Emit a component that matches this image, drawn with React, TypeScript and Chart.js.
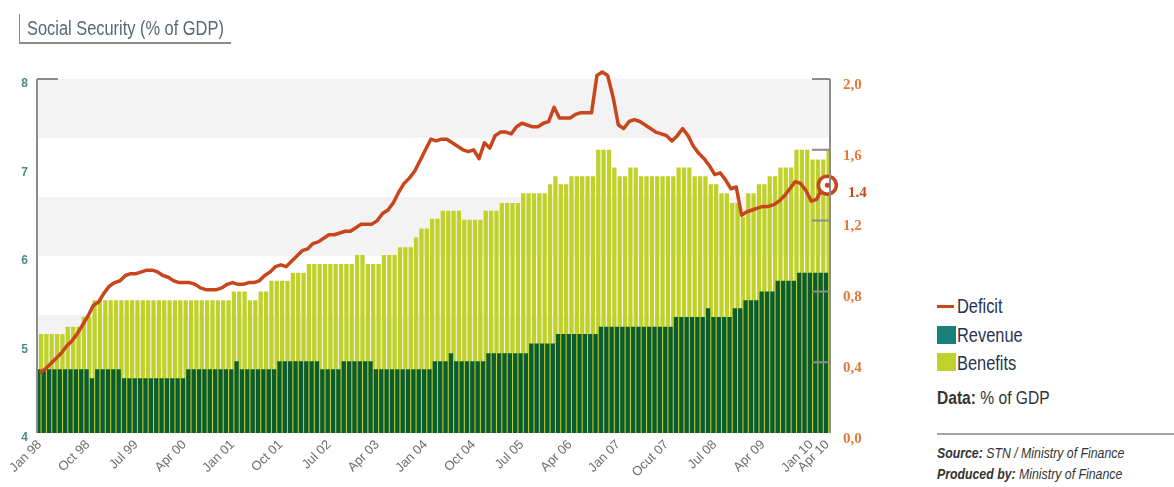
import React, { useEffect, useRef } from "react";
import { Chart, registerables } from "chart.js";

Chart.register(...registerables);

const MONTH_NAMES = ["Jan", "Feb", "Mar", "Apr", "May", "Jun", "Jul", "Aug", "Sep", "Oct", "Nov", "Dec"];

// Monthly categories Jan 98 .. Apr 10
const categories: string[] = [];
for (let y = 1998; y <= 2010; y++) {
  for (let m = 0; m < 12; m++) {
    if (y === 2010 && m > 3) break;
    categories.push(`${MONTH_NAMES[m]} ${String(y % 100).padStart(2, "0")}`);
  }
}

const tickCategories = ["Jan 98", "Oct 98", "Jul 99", "Apr 00", "Jan 01", "Oct 01", "Jul 02", "Apr 03", "Jan 04", "Oct 04", "Jul 05", "Apr 06", "Jan 07", "Oct 07", "Jul 08", "Apr 09", "Jan 10", "Apr 10"];
const tickLabels = ["Jan 98", "Oct 98", "Jul 99", "Apr 00", "Jan 01", "Oct 01", "Jul 02", "Apr 03", "Jan 04", "Oct 04", "Jul 05", "Apr 06", "Jan 07", "Ocut 07", "Jul 08", "Apr 09", "Jan 10", "Apr 10"];

// Benefits (% of GDP, left axis)
const benefits = [
  5.12, 5.12, 5.12, 5.12, 5.12, 5.2, 5.2, 5.2, 5.31, 5.31, 5.5, 5.5,
  5.5, 5.5, 5.5, 5.5, 5.5, 5.5, 5.5, 5.5, 5.5, 5.5, 5.5, 5.5,
  5.5, 5.5, 5.5, 5.5, 5.5, 5.5, 5.5, 5.5, 5.5, 5.5, 5.5, 5.5,
  5.6, 5.6, 5.6, 5.5, 5.5, 5.6, 5.6, 5.72, 5.72, 5.72, 5.72, 5.81,
  5.81, 5.81, 5.91, 5.91, 5.91, 5.91, 5.91, 5.91, 5.91, 5.91, 5.91, 6.01,
  6.01, 5.91, 5.91, 5.91, 6.01, 6.01, 6.01, 6.1, 6.1, 6.1, 6.21, 6.31,
  6.31, 6.42, 6.42, 6.51, 6.51, 6.51, 6.51, 6.41, 6.41, 6.41, 6.41, 6.51,
  6.51, 6.51, 6.6, 6.6, 6.6, 6.6, 6.71, 6.71, 6.71, 6.71, 6.71, 6.81,
  6.9, 6.81, 6.81, 6.9, 6.9, 6.9, 6.9, 6.9, 7.2, 7.2, 7.2, 7.0,
  6.9, 6.9, 7.0, 7.0, 6.9, 6.9, 6.9, 6.9, 6.9, 6.9, 6.9, 7.0,
  7.0, 7.0, 6.9, 6.9, 6.9, 6.81, 6.81, 6.71, 6.71, 6.6, 6.6, 6.44,
  6.71, 6.71, 6.81, 6.81, 6.9, 6.9, 7.0, 7.0, 7.0, 7.2, 7.2, 7.2,
  7.09, 7.09, 7.09, 7.2,
];

// Revenue (% of GDP, left axis)
const revenue = [
  4.72, 4.72, 4.72, 4.72, 4.72, 4.72, 4.72, 4.72, 4.72, 4.72, 4.62, 4.72,
  4.72, 4.72, 4.72, 4.72, 4.62, 4.62, 4.62, 4.62, 4.62, 4.62, 4.62, 4.62,
  4.62, 4.62, 4.62, 4.62, 4.72, 4.72, 4.72, 4.72, 4.72, 4.72, 4.72, 4.72,
  4.72, 4.81, 4.72, 4.72, 4.72, 4.72, 4.72, 4.72, 4.72, 4.81, 4.81, 4.81,
  4.81, 4.81, 4.81, 4.81, 4.81, 4.72, 4.72, 4.72, 4.72, 4.81, 4.81, 4.81,
  4.81, 4.81, 4.81, 4.72, 4.72, 4.72, 4.72, 4.72, 4.72, 4.72, 4.72, 4.72,
  4.72, 4.72, 4.81, 4.81, 4.81, 4.9, 4.81, 4.81, 4.81, 4.81, 4.81, 4.81,
  4.9, 4.9, 4.9, 4.9, 4.9, 4.9, 4.9, 4.9, 5.01, 5.01, 5.01, 5.01,
  5.01, 5.12, 5.12, 5.12, 5.12, 5.12, 5.12, 5.12, 5.12, 5.2, 5.2, 5.2,
  5.2, 5.2, 5.2, 5.2, 5.2, 5.2, 5.2, 5.2, 5.2, 5.2, 5.2, 5.31,
  5.31, 5.31, 5.31, 5.31, 5.31, 5.41, 5.31, 5.31, 5.31, 5.31, 5.41, 5.41,
  5.5, 5.5, 5.5, 5.6, 5.6, 5.6, 5.72, 5.72, 5.72, 5.72, 5.81, 5.81,
  5.81, 5.81, 5.81, 5.81,
];

// Deficit (% of GDP, right axis)
const deficit = [
  0.34, 0.36, 0.39, 0.42, 0.45, 0.49, 0.52, 0.56, 0.61, 0.66, 0.72, 0.74,
  0.79, 0.83, 0.85, 0.86, 0.89, 0.9, 0.9, 0.91, 0.92, 0.92, 0.91, 0.89,
  0.88, 0.86, 0.85, 0.85, 0.85, 0.84, 0.82, 0.81, 0.81, 0.81, 0.82, 0.84,
  0.85, 0.84, 0.84, 0.85, 0.85, 0.86, 0.89, 0.91, 0.94, 0.95, 0.94, 0.97,
  1.0, 1.03, 1.04, 1.07, 1.08, 1.1, 1.12, 1.12, 1.13, 1.14, 1.14, 1.16,
  1.18, 1.18, 1.18, 1.2, 1.24, 1.26, 1.3, 1.36, 1.41, 1.44, 1.48, 1.54,
  1.6, 1.66, 1.65, 1.66, 1.66, 1.64, 1.62, 1.6, 1.59, 1.6, 1.55, 1.64,
  1.61, 1.68, 1.7, 1.7, 1.69, 1.73, 1.75, 1.74, 1.73, 1.73, 1.75, 1.76,
  1.84, 1.78, 1.78, 1.78, 1.8, 1.81, 1.81, 1.81, 2.02, 2.04, 2.02, 1.9,
  1.74, 1.72, 1.76, 1.77, 1.76, 1.74, 1.72, 1.7, 1.69, 1.68, 1.65, 1.68,
  1.72, 1.68, 1.62, 1.58, 1.55, 1.51, 1.46, 1.47, 1.43, 1.38, 1.39, 1.23,
  1.25, 1.26, 1.27, 1.28, 1.28, 1.29, 1.31, 1.34, 1.38, 1.42, 1.41, 1.37,
  1.31, 1.32, 1.38, 1.4,
];

const lastValueLabel = "1.4";

const SANS = "'Liberation Sans', Arial, sans-serif";
const SERIF = "'Liberation Serif', 'DejaVu Serif', serif";
const RED = "#c8461c";
const AXIS_GREY = "#8c8c8c";

function Narrow({ children, style }: { children: React.ReactNode; style: React.CSSProperties }) {
  return (
    <div style={{ position: "absolute", whiteSpace: "nowrap", fontFamily: SANS, transform: "scaleX(0.82)", transformOrigin: "left center", ...style }}>
      {children}
    </div>
  );
}

export default function App() {
  const ref = useRef<HTMLCanvasElement>(null);

  useEffect(() => {
    document.body.style.margin = "0";
    const canvas = ref.current;
    if (!canvas) return;
    const last = deficit.length - 1;

    const decor = {
      id: "decor",
      beforeDraw(chart: any) {
        const { ctx, chartArea: a } = chart;
        const h = (a.bottom - a.top) / 6;
        ctx.save();
        ctx.fillStyle = "#f3f3f3";
        for (let k = 0; k < 6; k += 2) ctx.fillRect(a.left, a.top + k * h, a.right - a.left, h);
        ctx.restore();
      },
      afterDraw(chart: any) {
        const { ctx, chartArea: a, scales } = chart;
        ctx.save();
        ctx.strokeStyle = AXIS_GREY;
        ctx.lineWidth = 2;
        ctx.beginPath();
        ctx.moveTo(a.left, a.top);
        ctx.lineTo(a.left, a.bottom);
        ctx.moveTo(a.right, a.top);
        ctx.lineTo(a.right, a.bottom);
        const yTop = scales.y.getPixelForValue(scales.y.max);
        ctx.moveTo(a.left, yTop);
        ctx.lineTo(a.left + 21, yTop);
        scales.y1.ticks.forEach((t: any) => {
          if (t.value <= 0) return;
          const yy = scales.y1.getPixelForValue(t.value);
          ctx.moveTo(a.right - 18, yy);
          ctx.lineTo(a.right, yy);
        });
        ctx.stroke();
        const pt = chart.getDatasetMeta(0).data[last];
        if (pt) {
          ctx.fillStyle = RED;
          ctx.beginPath();
          ctx.arc(pt.x, pt.y, 2.5, 0, Math.PI * 2);
          ctx.fill();
        }
        ctx.restore();
      },
    };

    const chart = new Chart(canvas, {
      type: "bar",
      data: {
        labels: categories,
        datasets: [
          {
            type: "line",
            label: "Deficit",
            data: deficit,
            yAxisID: "y1",
            order: 0,
            borderColor: RED,
            borderWidth: 3.5,
            tension: 0,
            borderJoinStyle: "round",
            pointRadius: (c: any) => (c.dataIndex === last ? 9 : 0),
            pointBorderWidth: 3.5,
            pointBorderColor: RED,
            pointBackgroundColor: "#ffffff",
            clip: false,
          } as any,
          {
            type: "bar",
            label: "Revenue",
            data: revenue,
            yAxisID: "y",
            order: 1,
            backgroundColor: "#0b5c31",
            borderWidth: 0,
          },
          {
            type: "bar",
            label: "Benefits",
            data: benefits,
            yAxisID: "y",
            order: 2,
            backgroundColor: "#c0d22a",
            borderWidth: 0,
          },
        ],
      },
      options: {
        responsive: false,
        animation: false,
        events: [],
        layout: { padding: { top: 79, left: 0, right: 0, bottom: 0 } },
        datasets: { bar: { categoryPercentage: 1, barPercentage: 1.6 } } as any,
        plugins: { legend: { display: false }, tooltip: { enabled: false } },
        scales: {
          x: {
            type: "category",
            offset: true,
            grid: { display: false, drawTicks: false },
            border: { display: false },
            ticks: {
              autoSkip: false,
              maxRotation: 45,
              minRotation: 45,
              padding: 4,
              color: "#6e6e6e",
              font: { family: SANS, size: 13 },
              callback: (_v: any, idx: number) => {
                const k = tickCategories.indexOf(categories[idx]);
                return k >= 0 ? tickLabels[k] : "";
              },
            },
            afterFit: (s: any) => {
              s.height = 54;
            },
          },
          y: {
            position: "left",
            min: 4,
            max: 8,
            grid: { display: false, drawTicks: false },
            border: { display: false },
            ticks: {
              stepSize: 1,
              padding: 9,
              labelOffset: 5,
              color: "#4a8c80",
              font: { family: SANS, size: 12, weight: "bold" },
            },
            afterFit: (s: any) => {
              s.width = 37;
            },
          },
          y1: {
            position: "right",
            min: 0,
            max: 2,
            grid: { display: false, drawTicks: false },
            border: { display: false },
            ticks: {
              stepSize: 0.4,
              padding: 13,
              labelOffset: 6,
              color: "#e47a38",
              font: { family: SERIF, size: 15, weight: "bold" },
              callback: (v: any) => Number(v).toFixed(1).replace(".", ","),
            },
            afterFit: (s: any) => {
              s.width = 50;
            },
          },
        },
      },
      plugins: [decor],
    });

    return () => chart.destroy();
  }, []);

  const swatch = (bg: string) => ({
    position: "absolute" as const,
    left: 937,
    width: 19,
    height: 18,
    background: bg,
  });
  const legendText: React.CSSProperties = {
    left: 957,
    fontSize: 20,
    color: "#28344f",
    lineHeight: "20px",
  };

  return (
    <div style={{ position: "relative", width: 1174, height: 487, overflow: "hidden", background: "#ffffff" }}>
      <canvas ref={ref} width={880} height={487} style={{ position: "absolute", left: 0, top: 0 }} />
      <div
        style={{
          position: "absolute",
          left: 19,
          top: 14,
          width: 211,
          height: 28,
          borderLeft: "1.5px solid #8a8a8a",
          borderBottom: "2px solid #8a8a8a",
        }}
      />
      <Narrow style={{ left: 27, top: 17, fontSize: 20, lineHeight: "22px", color: "#5b6771" }}>
        Social Security (% of GDP)
      </Narrow>

      <div
        style={{
          position: "absolute",
          left: 848,
          top: 182,
          fontFamily: SERIF,
          fontWeight: "bold",
          fontSize: 15,
          lineHeight: "20px",
          color: RED,
        }}
      >
        {lastValueLabel}
      </div>

      <div style={{ position: "absolute", left: 937, top: 305, width: 17, height: 3, background: RED }} />
      <Narrow style={{ ...legendText, top: 296 }}>Deficit</Narrow>
      <div style={{ ...swatch("#17807b"), top: 326 }} />
      <Narrow style={{ ...legendText, top: 325 }}>Revenue</Narrow>
      <div style={{ ...swatch("#bfd12a"), top: 353 }} />
      <Narrow style={{ ...legendText, top: 353 }}>Benefits</Narrow>

      <Narrow style={{ ...legendText, left: 937, top: 388, color: "#333333", fontSize: 19 }}>
        <b>Data:</b> % of GDP
      </Narrow>

      <div style={{ position: "absolute", left: 937, top: 433, width: 237, height: 2, background: "#a3a3a3" }} />
      <Narrow style={{ left: 937, top: 444, fontStyle: "italic", fontSize: 15, lineHeight: "18px", color: "#333333" }}>
        <b>Source:</b> STN / Ministry of Finance
      </Narrow>
      <Narrow style={{ left: 937, top: 465, fontStyle: "italic", fontSize: 15, lineHeight: "18px", color: "#333333" }}>
        <b>Produced by:</b> Ministry of Finance
      </Narrow>
    </div>
  );
}
